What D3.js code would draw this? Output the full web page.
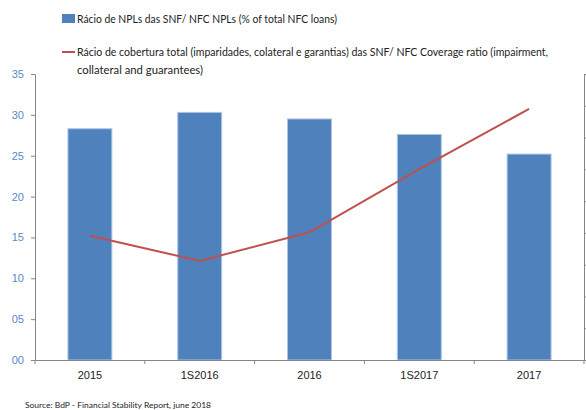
<!DOCTYPE html>
<html>
<head>
<meta charset="utf-8">
<script src="https://cdn.jsdelivr.net/npm/d3@7"></script>
<style>
  body { margin: 0; background: #fff; }
  svg { display: block; font-family: Lato, "Open Sans", sans-serif; }
</style>
</head>
<body>
<div id="chart"></div>
<script>
// NFC NPL ratio (bars, left axis) and coverage ratio (line, right axis)
const categories = ['2015', '1S2016', '2016', '1S2017', '2017'];
const nplRatio = [28.3, 30.3, 29.5, 27.6, 25.2];
const coverageRatio = [39.1, 31.2, 40.2, 60.1, 79.0];   // right axis, labels not visible
const leftTicks = [0, 5, 10, 15, 20, 25, 30, 35];
const rightTicks = [0, 10, 20, 30, 40, 50, 60, 70, 80, 90];

const width = 586, height = 410;
const margin = { top: 74, right: 2, bottom: 50, left: 35 };
const barColor = '#4F81BD';
const lineColor = '#C0504D';
const axisColor = '#868686';

const svg = d3.select('#chart')
    .append('svg')
    .attr('width', width)
    .attr('height', height);

const x = d3.scaleBand()
    .domain(categories)
    .range([margin.left, width - margin.right])
    .paddingInner(0.6)
    .paddingOuter(0.3);

const yLeft = d3.scaleLinear()
    .domain([0, 35])
    .range([height - margin.bottom, margin.top]);

const yRight = d3.scaleLinear()
    .domain([0, 90])
    .range([height - margin.bottom, margin.top]);

// bars
svg.selectAll('.bar')
    .data(categories)
    .enter()
    .append('rect')
    .attr('class', 'bar')
    .attr('x', d => x(d))
    .attr('y', (d, i) => yLeft(nplRatio[i]))
    .attr('width', x.bandwidth())
    .attr('height', (d, i) => yLeft(0) - yLeft(nplRatio[i]))
    .attr('fill', barColor)
    .attr('stroke', '#A9C4E8')
    .attr('stroke-width', 1);

// coverage line
const line = d3.line()
    .x((d, i) => x(categories[i]) + x.bandwidth() / 2)
    .y(d => yRight(d));

svg.append('path')
    .datum(coverageRatio)
    .attr('d', line)
    .attr('fill', 'none')
    .attr('stroke', lineColor)
    .attr('stroke-width', 2);

// left axis
const leftAxis = svg.append('g')
    .attr('transform', `translate(${margin.left}, 0)`)
    .call(d3.axisLeft(yLeft)
        .tickValues(leftTicks)
        .tickFormat(d3.format('02d'))
        .tickSize(4)
        .tickSizeOuter(0)
        .tickPadding(7));
leftAxis.selectAll('text').attr('fill', '#5B8AC8').attr('font-size', '11px');

// right axis (no labels)
svg.append('g')
    .attr('transform', `translate(${width - margin.right}, 0)`)
    .call(d3.axisRight(yRight)
        .tickValues(rightTicks)
        .tickFormat('')
        .tickSize(4)
        .tickSizeOuter(0));

// bottom axis
const bottomAxis = svg.append('g')
    .attr('transform', `translate(0, ${height - margin.bottom})`)
    .call(d3.axisBottom(x).tickSize(0).tickSizeOuter(0).tickPadding(11));
bottomAxis.selectAll('text').attr('fill', '#222').attr('font-size', '11px');

// tick marks at category boundaries
const boundaries = d3.range(categories.length + 1).map(i => x.range()[0] + i * x.step());
bottomAxis.selectAll('.boundary')
    .data(boundaries)
    .enter()
    .append('line')
    .attr('class', 'boundary')
    .attr('x1', d => d)
    .attr('x2', d => d)
    .attr('y1', 0)
    .attr('y2', 4);

svg.selectAll('.domain, .tick line, .boundary')
    .attr('stroke', axisColor);

// legend
const legend = svg.append('g').attr('font-size', '11px').attr('fill', '#222');

legend.append('rect')
    .attr('x', 62).attr('y', 14)
    .attr('width', 13).attr('height', 9)
    .attr('fill', barColor);
legend.append('text')
    .attr('x', 77).attr('y', 23)
    .attr('textLength', 260)
    .attr('lengthAdjust', 'spacingAndGlyphs')
    .text('Rácio de NPLs das SNF/ NFC NPLs (% of total NFC loans)');

legend.append('line')
    .attr('x1', 62).attr('x2', 75)
    .attr('y1', 52).attr('y2', 52)
    .attr('stroke', lineColor)
    .attr('stroke-width', 2);
legend.append('text')
    .attr('x', 77).attr('y', 56)
    .attr('textLength', 471)
    .attr('lengthAdjust', 'spacingAndGlyphs')
    .text('Rácio de cobertura total (imparidades, colateral e garantias) das SNF/ NFC Coverage ratio  (impairment,');
legend.append('text')
    .attr('x', 77).attr('y', 74)
    .attr('textLength', 126)
    .attr('lengthAdjust', 'spacingAndGlyphs')
    .text('collateral and guarantees)');

// source
svg.append('text')
    .attr('x', 25).attr('y', 408)
    .attr('font-size', '8px')
    .attr('fill', '#222')
    .attr('textLength', 186)
    .attr('lengthAdjust', 'spacingAndGlyphs')
    .text('Source: BdP - Financial Stability Report, june 2018');
</script>
</body>
</html>
